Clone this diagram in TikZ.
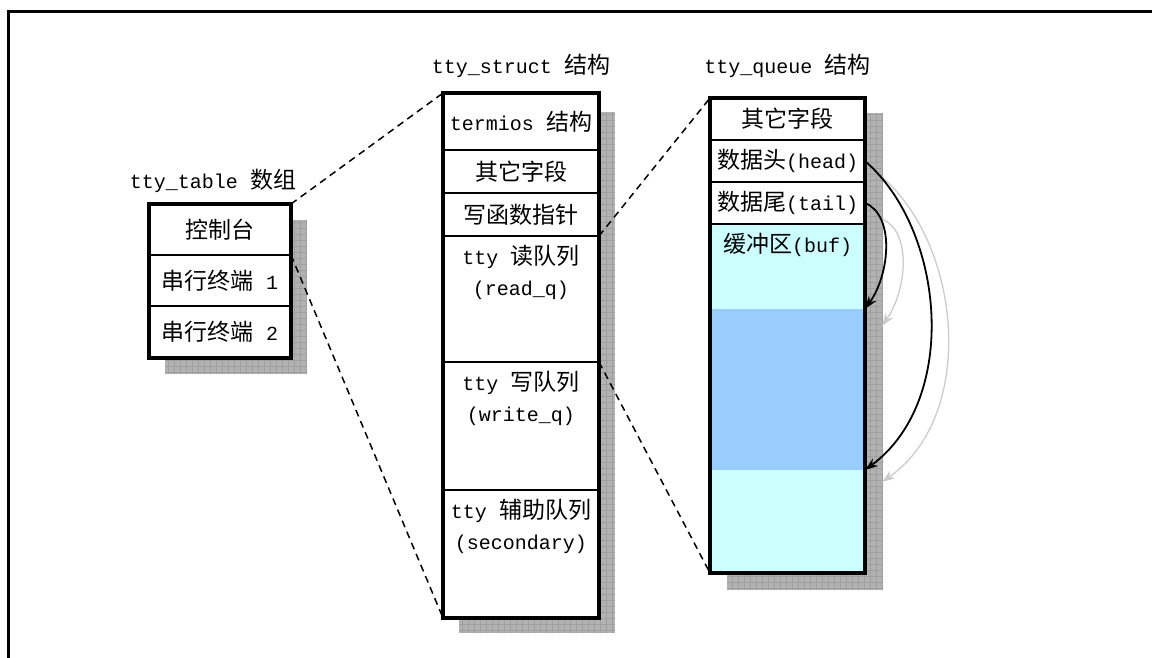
\documentclass[tikz,border=0pt]{standalone}
\usepackage{fontspec}
\setmainfont{Liberation Mono}
\newfontfamily\cjk{Noto Sans CJK SC}
\usetikzlibrary{arrows.meta,positioning,calc,backgrounds}
\tikzset{every picture/.style={line width=0.75pt}}
\definecolor{bufcyan}{RGB}{204,255,255}
\definecolor{bufblue}{RGB}{153,204,255}
\newcommand{\zh}[1]{{\cjk\fontsize{23pt}{31pt}\selectfont #1}}
\newcommand{\topcell}[2]{\parbox[c][#1][t]{150pt}{\centering\vspace*{9pt}#2}}
\tikzset{
  cell/.style={draw, fill=white, line width=1.5pt, inner sep=0pt, outer sep=0pt,
    font=\fontsize{20pt}{31pt}\selectfont},
  outline/.style={line width=3.5pt},
  shade/.style={fill=gray!60},
  shadegrid/.style={draw=gray!75, line width=0.4pt},
  title/.style={inner sep=0pt, font=\fontsize{20pt}{31pt}\selectfont},
  link/.style={line width=1.5pt, dash pattern=on 7pt off 5pt},
  ptr/.style={-{Stealth[length=13pt,width=9pt]}, line width=1.8pt},
  ghost/.style={ptr, color=gray!40, line width=1.3pt}
}
\begin{document}
\begin{tikzpicture}[x=1pt, y=-1pt]
    \useasboundingbox (0,0) rectangle (1152,657);
    % Frame
    \draw[line width=3pt] (1160,11.5) -- (8.7,11.5) -- (8.7,665);

    % tty_table array
    \node[cell, minimum width=142pt, minimum height=51pt, anchor=north] (con) at (220,204) {\zh{控制台}};
    \node[cell, minimum width=142pt, minimum height=51pt, below=0pt of con] (ser1) {\zh{串行终端} 1};
    \node[cell, minimum width=142pt, minimum height=52pt, below=0pt of ser1] (ser2) {\zh{串行终端} 2};
    \draw[outline] (con.north west) rectangle (ser2.south east);
    \node[title, above=11pt of con, xshift=-7pt] (tbltitle) {tty\_table \zh{数组}};

    % tty_struct
    \node[cell, minimum width=156pt, minimum height=57pt, anchor=north] (tsterm) at (521,93) {termios \zh{结构}};
    \node[cell, minimum width=156pt, minimum height=43pt, below=0pt of tsterm] (tsother) {\zh{其它字段}};
    \node[cell, minimum width=156pt, minimum height=43pt, below=0pt of tsother] (tswrfn) {\zh{写函数指针}};
    \node[cell, minimum width=156pt, below=0pt of tswrfn] (tsread) {\topcell{126pt}{tty \zh{读队列}\\(read\_q)}};
    \node[cell, minimum width=156pt, below=0pt of tsread] (tswrite) {\topcell{128pt}{tty \zh{写队列}\\(write\_q)}};
    \node[cell, minimum width=156pt, below=0pt of tswrite] (tssec) {\topcell{128pt}{tty \zh{辅助队列}\\(secondary)}};
    \draw[outline] (tsterm.north west) rectangle (tssec.south east);
    \node[title, above=15pt of tsterm] (tstitle) {tty\_struct \zh{结构}};

    % tty_queue
    \node[cell, minimum width=155pt, minimum height=42pt, anchor=north] (tqother) at (787.5,98) {\zh{其它字段}};
    \node[cell, minimum width=155pt, minimum height=42pt, below=0pt of tqother] (tqhead) {\zh{数据头}(head)};
    \node[cell, minimum width=155pt, minimum height=42pt, below=0pt of tqhead] (tqtail) {\zh{数据尾}(tail)};
    \node[cell, minimum width=155pt, draw=none, fill=bufcyan, below=0pt of tqtail] (tqbuf) {\topcell{85pt}{\zh{缓冲区}(buf)}};
    \node[cell, minimum width=155pt, minimum height=161pt, draw=none, fill=bufblue, below=0pt of tqbuf] (tqused) {};
    \node[cell, minimum width=155pt, minimum height=103pt, draw=none, fill=bufcyan, below=0pt of tqused] (tqfree) {};
    \draw[line width=1.5pt] (tqtail.south west) -- (tqtail.south east);
    \draw[outline] (tqother.north west) rectangle (tqfree.south east);
    \node[title, above=20pt of tqother] (tqtitle) {tty\_queue \zh{结构}};

    % Shadows
    \begin{scope}[on background layer]
        \fill[shade] ($(con.north west)+(16,16)$) rectangle ($(ser2.south east)+(16,16)$);
        \draw[shadegrid, step=6pt] ($(con.north west)+(16,16)$) grid ($(ser2.south east)+(16,16)$);
        \fill[shade] ($(tsterm.north west)+(16,19)$) rectangle ($(tssec.south east)+(16,15)$);
        \draw[shadegrid, step=6pt] ($(tsterm.north west)+(16,19)$) grid ($(tssec.south east)+(16,15)$);
        \fill[shade] ($(tqother.north west)+(17,15)$) rectangle ($(tqfree.south east)+(17,17)$);
        \draw[shadegrid, step=6pt] ($(tqother.north west)+(17,15)$) grid ($(tqfree.south east)+(17,17)$);
    \end{scope}

    % Links between the structures
    \draw[link] (con.north east) -- (tsterm.north west);
    \draw[link] (ser1.north east) -- (tssec.south west);
    \draw[link] (tsread.north east) -- (tqother.north west);
    \draw[link] (tswrite.north east) -- (tqfree.south west);

    % head and tail pointers (shadow copies in gray)
    \draw[ghost] ($(tqhead.east)+(17,16)$) .. controls ($(tqhead.east)+(97,85)$) and ($(tqused.south east)+(112,-54)$) .. ($(tqused.south east)+(17,12)$);
    \draw[ghost] ($(tqtail.east)+(17,16)$) .. controls ($(tqtail.east)+(47,28)$) and ($(tqused.north east)+(42,-19)$) .. ($(tqused.north east)+(17,17)$);
    \draw[ptr] (tqhead.east) .. controls ($(tqhead.east)+(80,69)$) and ($(tqused.south east)+(95,-70)$) .. (tqused.south east);
    \draw[ptr] (tqtail.east) .. controls ($(tqtail.east)+(30,12)$) and ($(tqused.north east)+(25,-35)$) .. (tqused.north east);
\end{tikzpicture}
\end{document}
